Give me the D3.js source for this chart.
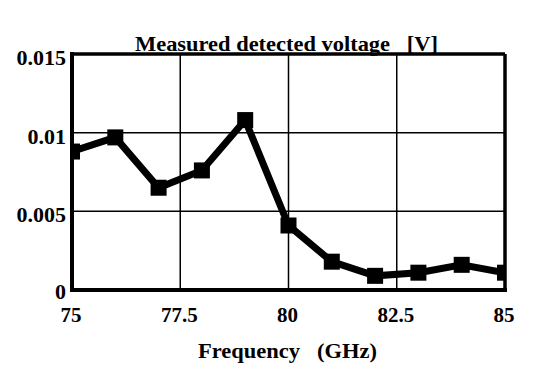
<!DOCTYPE html>
<html><head><meta charset="utf-8">
<script src="https://cdn.jsdelivr.net/npm/d3@7"></script>
<style>body{margin:0;background:#fff}svg{display:block}text{font-family:"Liberation Serif","Times New Roman",serif;font-weight:bold;fill:#000}</style>
</head><body>
<script>
const freqs = [75, 76, 77, 78, 79, 80, 81, 82, 83, 84, 85];
const voltage = [0.0088, 0.0097, 0.0065, 0.0076, 0.0108, 0.0041, 0.0018, 0.0009, 0.0011, 0.0016, 0.0011];
const xTicks = [75, 77.5, 80, 82.5, 85];
const yTicks = [0, 0.005, 0.01, 0.015];
const xTickLabels = ["75", "77.5", "80", "82.5", "85"];
const yTickLabels = ["0", "0.005", "0.01", "0.015"];
const title = "Measured detected voltage   [V]";
const xLabel = "Frequency   (GHz)";

const W = 535, H = 379;
const L = 72, R = 505, T = 54, B = 290;
const svg = d3.select("body").append("svg").attr("width", W).attr("height", H);
const x = d3.scaleLinear().domain([75, 85]).range([L, R]);
const y = d3.scaleLinear().domain([0, 0.015]).range([B, T]);

svg.append("defs").append("clipPath").attr("id","clip")
  .append("rect").attr("x", L).attr("y", T).attr("width", R-L).attr("height", B-T);

// grid
svg.append("g").selectAll("line").data(xTicks.slice(1,-1)).join("line")
  .attr("x1", d=>x(d)).attr("x2", d=>x(d)).attr("y1", T).attr("y2", B)
  .attr("stroke","#000").attr("stroke-width",1.5);
svg.append("g").selectAll("line").data(yTicks.slice(1,-1)).join("line")
  .attr("y1", d=>y(d)).attr("y2", d=>y(d)).attr("x1", L).attr("x2", R)
  .attr("stroke","#000").attr("stroke-width",1.5);

// data
const g = svg.append("g").attr("clip-path","url(#clip)");
g.append("path").datum(freqs.map((f,i)=>[f, voltage[i]]))
  .attr("d", d3.line().x(d=>x(d[0])).y(d=>y(d[1])))
  .attr("fill","none").attr("stroke","#000").attr("stroke-width",7).attr("stroke-linejoin","miter");
const ms = 16;
g.selectAll("rect.m").data(freqs.map((f,i)=>[f, voltage[i]])).join("rect")
  .attr("class","m").attr("x", d=>x(d[0])-ms/2).attr("y", d=>y(d[1])-ms/2)
  .attr("width", ms).attr("height", ms).attr("fill","#000");

// frame
svg.append("line").attr("x1",L).attr("x2",R).attr("y1",T).attr("y2",T).attr("stroke","#000").attr("stroke-width",3.5);
svg.append("line").attr("x1",R).attr("x2",R).attr("y1",T).attr("y2",B).attr("stroke","#000").attr("stroke-width",3.5);
svg.append("line").attr("x1",L).attr("x2",L).attr("y1",T-2).attr("y2",B+2).attr("stroke","#000").attr("stroke-width",4);
svg.append("line").attr("x1",L-2).attr("x2",R+2).attr("y1",B).attr("y2",B).attr("stroke","#000").attr("stroke-width",4);

// tick labels
svg.append("g").selectAll("text").data(xTicks).join("text")
  .attr("x", d=>x(d)-1).attr("y", 322).attr("text-anchor","middle")
  .attr("font-size", 21).text((d,i)=>xTickLabels[i]);
svg.append("g").selectAll("text").data(yTicks).join("text")
  .attr("x", 66).attr("y", d=>y(d)+(d===0?9:11)).attr("text-anchor","end")
  .attr("font-size", 22).text((d,i)=>yTickLabels[i]);

svg.append("text").attr("x", 135).attr("y", 51).attr("font-size",21)
  .attr("textLength", 303).attr("lengthAdjust","spacingAndGlyphs")
  .style("white-space","pre").text(title);
svg.append("text").attr("x", 198).attr("y", 358).attr("font-size",20)
  .attr("textLength", 179).attr("lengthAdjust","spacingAndGlyphs")
  .style("white-space","pre").text(xLabel);
</script>
</body></html>
